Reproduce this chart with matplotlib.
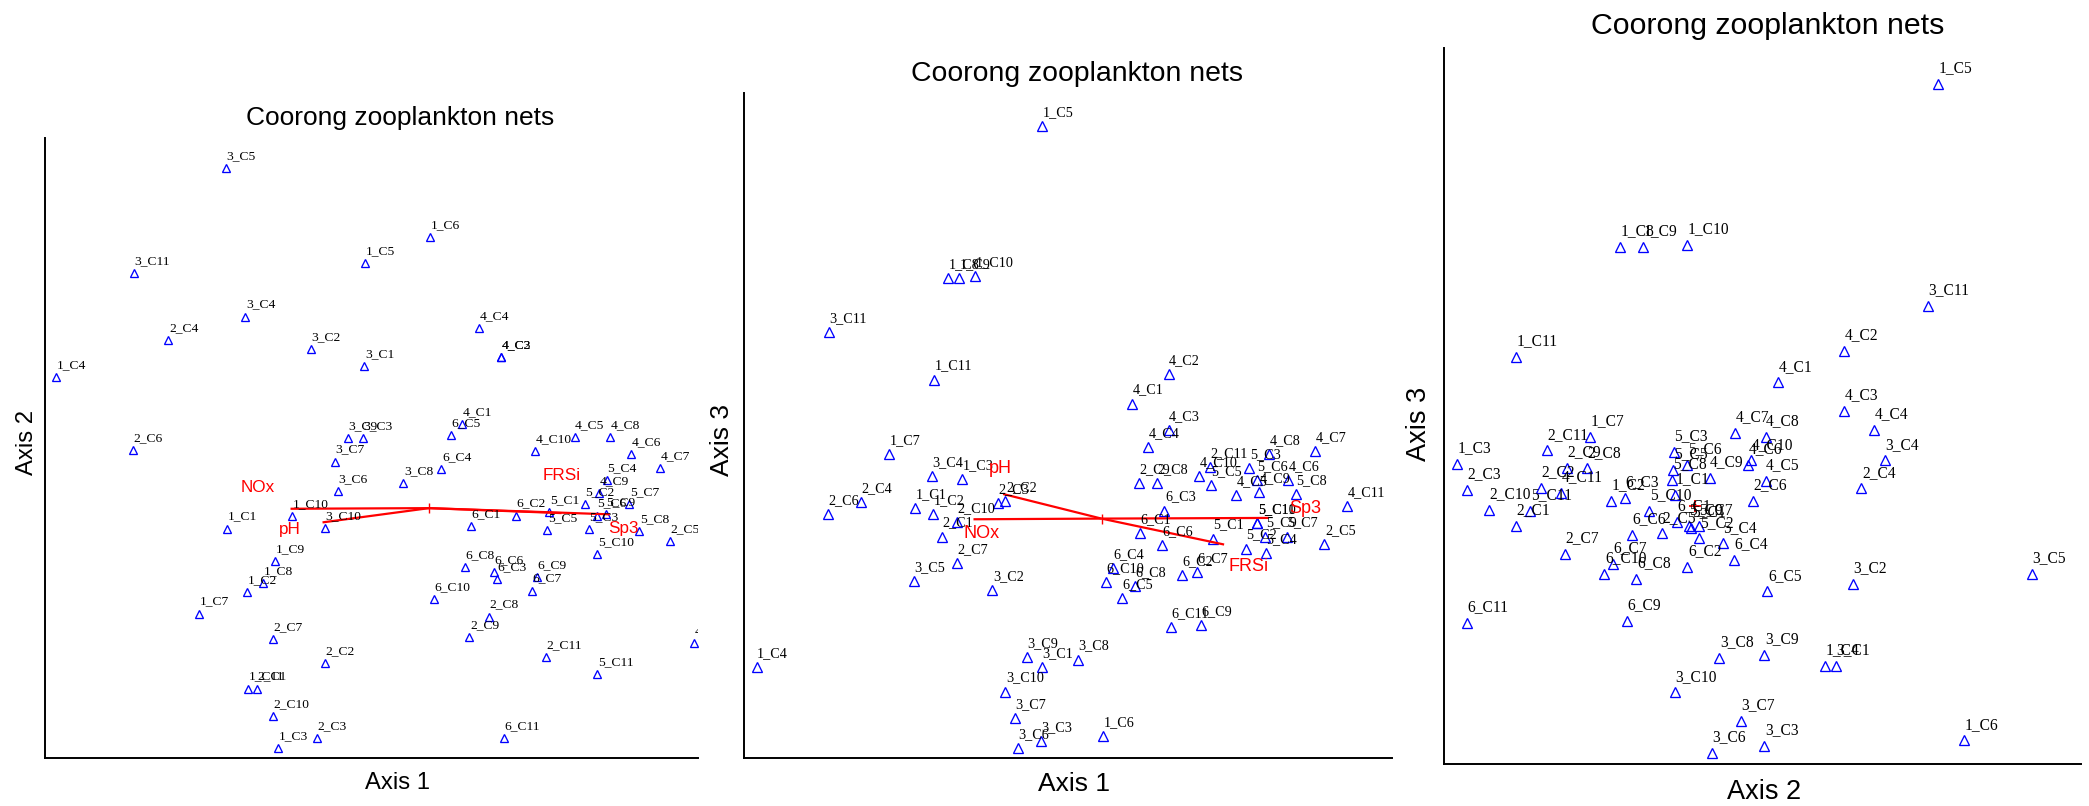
import matplotlib
matplotlib.use("Agg")
import matplotlib.pyplot as plt

W, H = 2089, 806
TITLE = "Coorong zooplankton nets"

# NMS sample scores (66 nets: site 1-6, nets C1-C11), rescaled to 0-100
samples = [
    "1_C1", "1_C2", "1_C3", "1_C4", "1_C5", "1_C6", "1_C7", "1_C8", "1_C9", "1_C10", "1_C11",
    "2_C1", "2_C2", "2_C3", "2_C4", "2_C5", "2_C6", "2_C7", "2_C8", "2_C9", "2_C10", "2_C11",
    "3_C1", "3_C2", "3_C3", "3_C4", "3_C5", "3_C6", "3_C7", "3_C8", "3_C9", "3_C10", "3_C11",
    "4_C1", "4_C2", "4_C3", "4_C4", "4_C5", "4_C6", "4_C7", "4_C8", "4_C9", "4_C10", "4_C11",
    "5_C1", "5_C2", "5_C3", "5_C4", "5_C5", "5_C6", "5_C7", "5_C8", "5_C9", "5_C10", "5_C11",
    "6_C1", "6_C2", "6_C3", "6_C4", "6_C5", "6_C6", "6_C7", "6_C8", "6_C9", "6_C10", "6_C11",
]
axis1 = [
    27.9, 30.9, 35.7, 1.7, 49.0, 59.0, 23.6, 33.4, 35.2, 37.9, 31.1,
    32.4, 42.9, 41.7, 18.9, 95.7, 13.5, 34.9, 68.0, 65.0, 34.9, 76.7,
    48.9, 40.7, 48.7, 30.7, 27.7, 44.9, 44.4, 54.9, 46.4, 42.9, 13.6,
    63.9, 69.9, 69.9, 66.5, 81.1, 89.7, 94.2, 86.5, 84.9, 75.0, 99.4,
    77.2, 82.7, 83.3, 86.0, 76.9, 84.5, 89.5, 91.0, 85.9, 84.6, 84.6,
    65.2, 72.1, 69.2, 60.7, 62.2, 68.8, 74.6, 64.3, 75.3, 59.5, 70.3,
]
axis2 = [
    37.0, 26.7, 1.6, 61.4, 79.8, 84.0, 23.3, 28.2, 31.8, 39.0, 11.2,
    11.2, 15.3, 3.2, 67.4, 35.0, 49.7, 19.2, 22.8, 19.5, 6.8, 16.3,
    63.2, 66.0, 51.6, 71.2, 95.1, 43.1, 47.8, 44.3, 51.6, 37.1, 78.2,
    53.8, 64.6, 64.6, 69.4, 51.8, 49.0, 46.8, 51.8, 42.7, 49.5, 18.5,
    39.7, 41.0, 36.9, 44.8, 36.8, 39.1, 40.9, 36.6, 39.3, 32.9, 13.5,
    37.4, 39.1, 28.9, 46.6, 52.1, 30.0, 27.0, 30.8, 29.2, 25.6, 3.2,
]
axis3 = [
    37.6, 36.7, 41.9, 13.7, 95.0, 3.3, 45.7, 72.2, 72.2, 72.5, 56.9,
    33.3, 38.6, 38.3, 38.5, 32.2, 36.7, 29.3, 41.3, 41.4, 35.5, 43.8,
    13.7, 25.2, 2.5, 42.4, 26.6, 1.5, 6.0, 14.8, 15.2, 10.0, 64.0,
    53.3, 57.7, 49.3, 46.7, 39.5, 41.8, 46.2, 45.7, 40.0, 42.4, 37.9,
    33.0, 31.5, 43.6, 30.8, 41.1, 41.8, 33.3, 39.7, 33.3, 35.3, 35.3,
    33.8, 27.5, 37.2, 28.5, 24.1, 32.0, 27.9, 25.8, 20.0, 26.5, 19.7,
]

# joint-plot environmental vectors (tip positions) and the centroid they start from
env_names = ["NOx", "pH", "FRSi", "Sp3"]
env_axis1 = [37.6, 42.5, 79.1, 86.5]
env_axis2 = [40.2, 38.0, 39.5, 39.3]
env_axis3 = [35.9, 39.7, 32.1, 36.1]
centroid = [58.8, 40.3, 36.0]

scores = [axis1, axis2, axis3]
env_scores = [env_axis1, env_axis2, env_axis3]

plt.rcParams["font.family"] = ["Liberation Sans", "DejaVu Sans"]
fig = plt.figure(figsize=(W / 100, H / 100), dpi=100)


def add_axes(left, top, right, bottom):
    return fig.add_axes([left / W, 1 - bottom / H, (right - left) / W, (bottom - top) / H])


def fig_text(x, y, s, **kw):
    fig.text(x / W, 1 - y / H, s, **kw)


panels = [
    dict(box=(45, 138, 698, 758), ax_i=(0, 1), xlim=(0, 100), ylim=(0, 100),
         fs=9.7, ms=6.4, off=6.5, clip=True, vec_fs=12.3, vectors=True,
         title=(399.7, 125, 19), xlabel=("Axis 1", 397.5, 789, 17.2),
         ylabel=("Axis 2", 27, 442, 17.2),
         env_off={"NOx": (-11.5, 15, "right"), "pH": (-16, -5, "right"),
                  "FRSi": (0, 27, "center"), "Sp3": (-1, -10, "left")}),
    dict(box=(744, 93, 1392, 758), ax_i=(0, 2), xlim=(-0.4, 106.9), ylim=(0, 100),
         fs=10.2, ms=6.9, off=7.2, clip=False, vec_fs=13, vectors=True,
         title=(1077, 80.7, 20.4), xlabel=("Axis 1", 1074, 791, 19),
         ylabel=("Axis 3", 722, 440, 19),
         env_off={"NOx": (-7, -10, "left"), "pH": (-2, 18, "center"),
                  "FRSi": (3.5, -16, "left"), "Sp3": (14.5, 7, "left")}),
    dict(box=(1444, 48, 2081, 764), ax_i=(1, 2), xlim=(-0.5, 103.1), ylim=(0, 100),
         fs=11.2, ms=6.9, off=8.4, clip=False, vec_fs=13, vectors=False,
         title=(1767.3, 34, 21.8), xlabel=("Axis 2", 1764, 799, 19.5),
         ylabel=("Axis 3", 1419, 424, 19.5), env_off={}),
]

for p in panels:
    ax = add_axes(*p["box"])
    xi, yi = p["ax_i"]
    xs, ys = scores[xi], scores[yi]
    ax.set_xlim(*p["xlim"])
    ax.set_ylim(*p["ylim"])
    for side in ("top", "right"):
        ax.spines[side].set_visible(False)
    for side in ("left", "bottom"):
        ax.spines[side].set_linewidth(1.4)
        ax.spines[side].set_color("black")
    ax.set_xticks([])
    ax.set_yticks([])
    ax.patch.set_alpha(0)

    ax.plot(xs, ys, linestyle="none", marker="^", markersize=p["ms"],
            markerfacecolor="none", markeredgecolor="#0000ff", markeredgewidth=0.95)
    for name, x, y in zip(samples, xs, ys):
        ax.annotate(name, (x, y), xytext=(0.4, p["off"]), textcoords="offset points",
                    ha="left", va="baseline", fontsize=p["fs"], color="black",
                    family=["Liberation Serif", "DejaVu Serif"],
                    annotation_clip=False, clip_on=p["clip"])

    cx, cy = centroid[xi], centroid[yi]
    if p["vectors"]:
        ex, ey = env_scores[xi], env_scores[yi]
        for name, x, y in zip(env_names, ex, ey):
            ax.plot([cx, x], [cy, y], color="red", linewidth=1.6, solid_capstyle="butt")
            dx, dy, ha = p["env_off"][name]
            ax.annotate(name, (x, y), xytext=(dx, dy), textcoords="offset points",
                        ha=ha, va="center", fontsize=p["vec_fs"], color="red")
        ax.plot([cx], [cy], marker="|", markersize=7, color="red", markeredgewidth=1)
    else:
        ax.plot([cx], [cy], marker="+", markersize=9, color="red", markeredgewidth=1.3)

    tx, ty, tfs = p["title"]
    fig_text(tx, ty, TITLE, ha="center", va="baseline", fontsize=tfs)
    lab, lx, ly, lfs = p["xlabel"]
    fig_text(lx, ly, lab, ha="center", va="baseline", fontsize=lfs)
    lab, lx, ly, lfs = p["ylabel"]
    fig_text(lx, ly, lab, ha="center", va="center", rotation=90, fontsize=lfs)

fig.savefig("out.png", dpi=100)
